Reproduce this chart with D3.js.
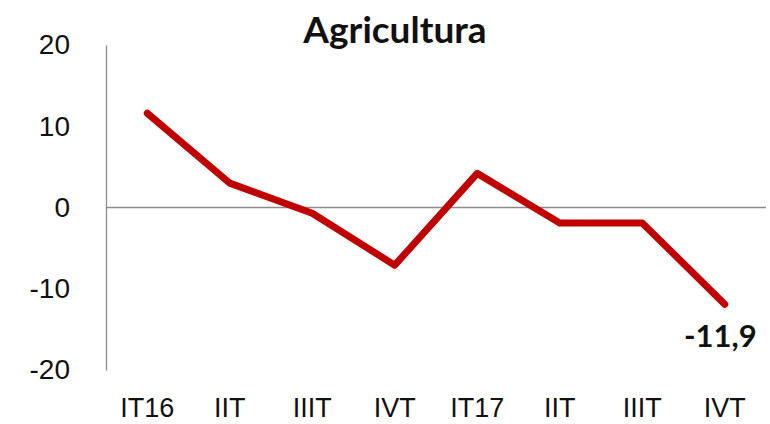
<!DOCTYPE HTML>
<html lang="es">
<head>
<meta charset="utf-8">
<title>Agricultura</title>
<script src="https://cdn.jsdelivr.net/npm/d3@7"></script>
<style>
html,body{margin:0;padding:0;background:#fff}
svg{display:block;font-family:Lato,"Open Sans",sans-serif}
</style>
</head>
<body>
<div id="chart"></div>
<script>
// quarters and values
var quarters=["IT16","IIT","IIIT","IVT","IT17","IIT","IIIT","IVT"];
var values=[11.6,3.0,-0.7,-7.1,4.2,-1.9,-1.9,-11.9];
var yTicks=[-20,-10,0,10,20];
var title="Agricultura";
var lastLabel="-11,9";

var W=770,H=424;
var svg=d3.select("#chart").append("svg").attr("width",W).attr("height",H);

// band scale keeps the index so repeated labels do not collide
var x=d3.scaleBand().domain(d3.range(quarters.length)).range([106,766]);
var y=d3.scaleLinear().domain([-20,20]).range([370,45]);

// y axis: plain line, labels on the left (plain hyphen for negatives)
var yAxis=d3.axisLeft(y).tickValues(yTicks).tickFormat(function(d){return String(d)}).tickSize(0).tickPadding(36);
var gy=svg.append("g").attr("transform","translate(106,0)").call(yAxis);
gy.select(".domain").attr("stroke","#8c8c8c").attr("stroke-width",1.3);
gy.selectAll("text").attr("font-size","28px").attr("fill","#111").attr("font-family",null);

// zero line
svg.append("line")
    .attr("x1",106).attr("x2",766)
    .attr("y1",y(0)).attr("y2",y(0))
    .attr("stroke","#8c8c8c").attr("stroke-width",1.3);

// category labels at the bottom
var xAxis=d3.axisBottom(x).tickFormat(function(i){return quarters[i]}).tickSize(0).tickPadding(0);
var gx=svg.append("g").attr("transform","translate(0,398)").call(xAxis);
gx.select(".domain").remove();
gx.selectAll("text").attr("font-size","27px").attr("fill","#111").attr("font-family",null);

var line=d3.line()
    .x(function(d,i){return x(i)+x.bandwidth()/2})
    .y(function(d){return y(d)});

svg.append("path")
    .datum(values)
    .attr("fill","none")
    .attr("stroke","#c00000")
    .attr("stroke-width",7)
    .attr("stroke-linejoin","round")
    .attr("stroke-linecap","round")
    .attr("d",line);

// label on the last point
var n=values.length-1;
svg.append("text")
    .attr("x",x(n)+x.bandwidth()/2+32)
    .attr("y",y(values[n])+43)
    .attr("text-anchor","end")
    .attr("font-size","31px")
    .attr("font-weight","bold")
    .attr("fill","#111")
    .text(lastLabel);

svg.append("text")
    .attr("x",395)
    .attr("y",43)
    .attr("text-anchor","middle")
    .attr("font-size","37px")
    .attr("font-weight","bold")
    .attr("fill","#111")
    .text(title);
</script>
</body>
</html>
